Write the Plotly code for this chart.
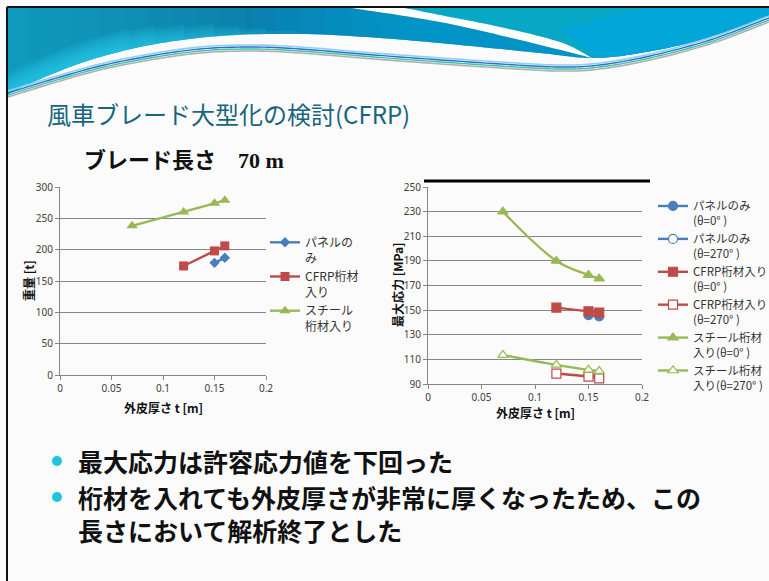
import plotly.graph_objects as go

W, H = 769, 581

# ---- data: blade length 70 m ----
thickness_ticks = [0, 0.05, 0.1, 0.15, 0.2]
weight_ticks = [0, 50, 100, 150, 200, 250, 300]
stress_ticks = [90, 110, 130, 150, 170, 190, 210, 230, 250]

# weight [t] vs skin thickness t [m]
t_panel = [0.15, 0.16]
w_panel = [179, 187]
t_cfrp = [0.12, 0.15, 0.16]
w_cfrp = [174, 198, 206]
t_steel = [0.07, 0.12, 0.15, 0.16]
w_steel = [238, 260, 274, 279]

# maximum stress [MPa] vs skin thickness t [m]
s_panel_0 = [146, 145]
s_panel_270 = [97, 96]
s_cfrp_0 = [152, 149, 148]
s_cfrp_270 = [98.5, 96, 94.5]
s_steel_0 = [230, 190, 178.5, 175.5]
s_steel_270 = [113.5, 105.5, 101.5, 100.5]

weight_names = ["パネルの<br>み", "CFRP桁材<br>入り", "スチール<br>桁材入り"]
stress_names = ["パネルのみ<br>(θ=0° )", "パネルのみ<br>(θ=270° )",
                "CFRP桁材入り<br>(θ=0° )", "CFRP桁材入り<br>(θ=270° )",
                "スチール桁材<br>入り(θ=0° )", "スチール桁材<br>入り(θ=270° )"]

BLUE, RED, GREEN = "#4a7ebb", "#be4b48", "#98b954"
CJK = "Noto Sans CJK JP"


def px(x, y):
    return x / W, 1 - y / H


def sample_curve(pts, n=12):
    """Catmull-Rom spline through pixel points, returned as a dense polyline."""
    out = [pts[0]]
    for i in range(len(pts) - 1):
        p0 = pts[i - 1] if i > 0 else pts[i]
        p1, p2 = pts[i], pts[i + 1]
        p3 = pts[i + 2] if i + 2 < len(pts) else p2
        for k in range(1, n + 1):
            t = k / n
            t2, t3 = t * t, t * t * t
            x = 0.5 * (2 * p1[0] + (-p0[0] + p2[0]) * t + (2 * p0[0] - 5 * p1[0] + 4 * p2[0] - p3[0]) * t2
                       + (-p0[0] + 3 * p1[0] - 3 * p2[0] + p3[0]) * t3)
            y = 0.5 * (2 * p1[1] + (-p0[1] + p2[1]) * t + (2 * p0[1] - 5 * p1[1] + 4 * p2[1] - p3[1]) * t2
                       + (-p0[1] + 3 * p1[1] - 3 * p2[1] + p3[1]) * t3)
            out.append((x, y))
    return out


def poly_path(pts, closed=True):
    parts = []
    for i, p in enumerate(pts):
        q = px(*p)
        parts.append(("M" if i == 0 else "L") + f"{q[0]:.5f},{q[1]:.5f}")
    if closed:
        parts.append("Z")
    return " ".join(parts)


def region(color, pts, closed=True, line=None):
    d = dict(type="path", xref="paper", yref="paper", layer="below", path=poly_path(pts, closed))
    if closed:
        d.update(fillcolor=color, line=dict(width=0))
    else:
        d.update(line=line)
    return d


fig = go.Figure()

# ---- left chart: weight ----
for xs, ys, name, col, sym, size in [
    (t_panel, w_panel, weight_names[0], BLUE, "diamond", 8),
    (t_cfrp, w_cfrp, weight_names[1], RED, "square", 9),
    (t_steel, w_steel, weight_names[2], GREEN, "triangle-up", 10),
]:
    fig.add_trace(go.Scatter(
        x=xs, y=ys, name=name, mode="lines+markers",
        line=dict(color=col, width=2.4),
        marker=dict(symbol=sym, size=size, color=col),
        xaxis="x", yaxis="y", legend="legend"))

# ---- right chart: maximum stress ----
for xs, ys, name, col, sym, filled in [
    (t_panel, s_panel_0, stress_names[0], BLUE, "circle", True),
    (t_panel, s_panel_270, stress_names[1], BLUE, "circle", False),
    (t_cfrp, s_cfrp_0, stress_names[2], RED, "square", True),
    (t_cfrp, s_cfrp_270, stress_names[3], RED, "square", False),
    (t_steel, s_steel_0, stress_names[4], GREEN, "triangle-up", True),
    (t_steel, s_steel_270, stress_names[5], GREEN, "triangle-up", False),
]:
    fig.add_trace(go.Scatter(
        x=xs, y=ys, name=name, mode="lines+markers",
        line=dict(color=col, width=2.4, shape="spline", smoothing=1),
        marker=dict(symbol=sym, size=9, color=col if filled else "white",
                    line=dict(color=col, width=1.2)),
        xaxis="x2", yaxis="y2", legend="legend2"))

tickfont = dict(family="Noto Sans", size=10, color="#404040")
xcommon = dict(range=[0, 0.2], tickvals=thickness_ticks, showgrid=False,
               showline=True, linecolor="#868686", linewidth=1,
               ticks="outside", ticklen=4, tickcolor="#868686",
               tickfont=tickfont, zeroline=False, fixedrange=True)
ycommon = dict(showgrid=True, gridcolor="#868686", gridwidth=1,
               showline=True, linecolor="#868686", linewidth=1,
               ticks="outside", ticklen=4, tickcolor="#868686",
               tickfont=tickfont, zeroline=False, fixedrange=True)

fig.update_layout(
    width=W, height=H,
    margin=dict(l=0, r=0, t=0, b=0, autoexpand=False),
    paper_bgcolor="#fbfbfb", plot_bgcolor="rgba(0,0,0,0)",
    font=dict(family=CJK, color="#222"),
    xaxis=dict(domain=[60 / W, 266 / W], anchor="y", **xcommon),
    yaxis=dict(domain=[1 - 375 / H, 1 - 187 / H], anchor="x",
               range=[0, 300], tickvals=weight_ticks, **ycommon),
    xaxis2=dict(domain=[428 / W, 642 / W], anchor="y2", **xcommon),
    yaxis2=dict(domain=[1 - 384 / H, 1 - 187 / H], anchor="x2",
                range=[90, 250], tickvals=stress_ticks, **ycommon),
    legend=dict(x=265 / W, y=1 - 228 / H, xanchor="left", yanchor="top",
                font=dict(family=CJK, size=12, color="#333"),
                bgcolor="rgba(0,0,0,0)", valign="top", itemwidth=30,
                tracegroupgap=0),
    legend2=dict(x=653 / W, y=1 - 192 / H, xanchor="left", yanchor="top",
                 font=dict(family=CJK, size=11.5, color="#333"),
                 bgcolor="rgba(0,0,0,0)", valign="top", itemwidth=30,
                 tracegroupgap=0),
)

shapes = []

# ---- decorative header wave ----
edge = sample_curve([(8, 94), (40, 79), (90, 60), (150, 45), (220, 36), (300, 34),
                     (380, 38), (460, 45), (540, 53), (592, 58), (640, 53), (700, 40), (769, 16)])
shapes.append(region("#0b7eab", edge + [(769, 8), (8, 8)]))

# teal tint fading out from the top-left corner
for k in range(10):
    xk = 30 + 24 * k
    part = [p for p in edge if p[0] <= xk]
    shapes.append(region("rgba(25,180,210,0.07)", part + [(part[-1][0], 8), (8, 8)]))

# cyan glow fading upward from the lower left edge
for k in range(7):
    d = 3 * (k + 1)
    x_end = 300 - 28 * k
    part = [p for p in edge if p[0] <= x_end]
    upper = [(x, y - d) for x, y in reversed(part)]
    shapes.append(region("rgba(45,215,238,0.14)", part + upper))

# streak boundaries
streak_low = sample_curve([(352, 8), (440, 22), (520, 40), (592, 58)])
streak_high = sample_curve([(405, 8), (450, 17), (500, 27), (560, 42), (592, 58)])

# brighter blue under the white streak, fading in from the left
for k in range(7):
    x0 = 250 + 25 * k
    under = [p for p in edge if x0 <= p[0] <= 592]
    low = [p for p in streak_low if p[0] >= x0] or [(x0, 8)]
    shapes.append(region("rgba(0,165,225,0.12)",
                         low + list(reversed(under)) + [(x0, 8)]))

# teal area at the top right
right_edge = [p for p in edge if p[0] >= 592]
shapes.append(region("#07a8c6", list(streak_high) + right_edge + [(769, 8)]))
shapes.append(region("rgba(0,165,225,0.7)",
                     [p for p in edge if p[0] >= 600] + [(769, 8), (640, 8), (560, 30)]))
# white streak
shapes.append(region("white", streak_low + list(reversed(streak_high))))

# thin ribbon lines under the wave
ribbon = sample_curve([(8, 93), (50, 80), (100, 66), (150, 56), (200, 49), (250, 47), (300, 49),
                       (400, 57), (500, 64), (560, 67), (600, 65), (650, 56), (710, 40), (769, 18)])
for dy, col, wd in [(-2, "#8fd0ee", 1.6), (0, "#2a6fc8", 1.4), (2, "#38c4a8", 1.4), (4, "#b0b0b0", 1.6)]:
    shapes.append(region(None, [(x, y + dy) for x, y in ribbon], closed=False,
                         line=dict(color=col, width=wd)))

# slide frame
shapes.append(dict(type="line", xref="paper", yref="paper", x0=px(7, 0)[0], x1=px(7, 0)[0],
                   y0=px(0, 7)[1], y1=0, line=dict(color="#111", width=2)))
shapes.append(dict(type="line", xref="paper", yref="paper", x0=px(7, 0)[0], x1=1,
                   y0=px(0, 7)[1], y1=px(0, 7)[1], line=dict(color="#111", width=2)))

# heavy rule above the stress chart
shapes.append(dict(type="line", xref="paper", yref="paper", x0=424 / W, x1=650 / W,
                   y0=px(0, 181)[1], y1=px(0, 181)[1], line=dict(color="black", width=3)))

# bullet dots
for by in [461, 497]:
    cx, cy = px(57, by)
    shapes.append(dict(type="circle", xref="paper", yref="paper",
                       x0=cx - 5 / W, x1=cx + 5 / W, y0=cy - 5 / H, y1=cy + 5 / H,
                       fillcolor="#1ec5da", line=dict(width=0)))

fig.update_layout(shapes=shapes)

ann = []


def text(x, y, s, size, color="#111", family=CJK, xanchor="left", angle=0, yanchor="middle"):
    ax, ay = px(x, y)
    ann.append(dict(x=ax, y=ay, xref="paper", yref="paper", text=s, showarrow=False,
                    xanchor=xanchor, yanchor=yanchor, textangle=angle, align="left",
                    font=dict(family=family, size=size, color=color)))


text(45, 113, "風車ブレード大型化の検討(CFRP)", 24, color="#17647e")
text(82, 160, "<b>ブレード長さ　70 m</b>", 22, family="Liberation Serif, " + CJK)
text(163, 407, "<b>外皮厚さ t [m]</b>", 12, xanchor="center")
text(535, 412, "<b>外皮厚さ t [m]</b>", 12, xanchor="center")
text(28, 281, "<b>重量 [t]</b>", 12, xanchor="center", angle=-90)
text(397, 285, "<b>最大応力 [MPa]</b>", 12, xanchor="center", angle=-90)
text(76, 461, "<b>最大応力は許容応力値を下回った</b>", 25)
text(76, 513, "<b>桁材を入れても外皮厚さが非常に厚くなったため、この<br>長さにおいて解析終了とした</b>", 25)

fig.update_layout(annotations=ann)

fig.write_html("out.html")
